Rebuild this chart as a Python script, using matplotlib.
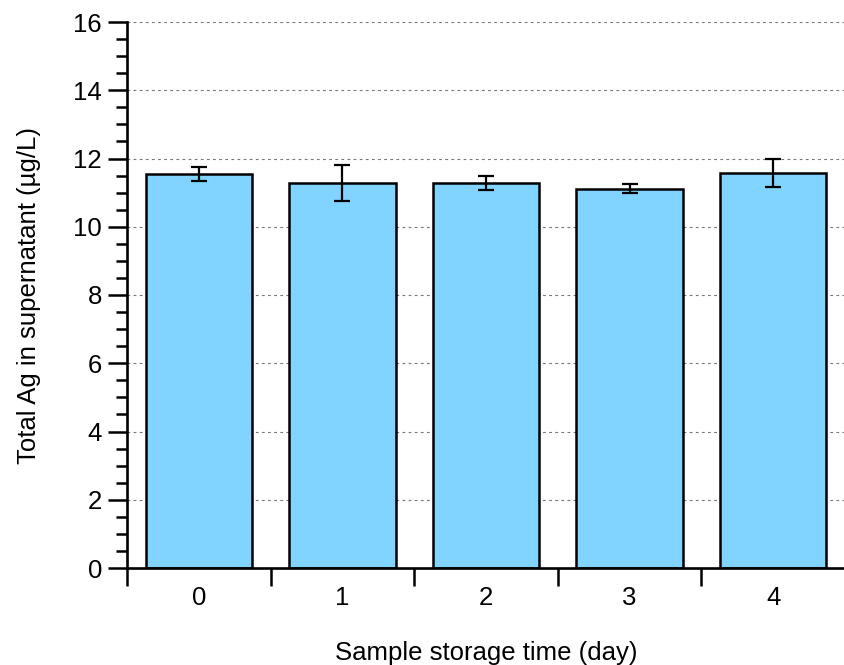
import matplotlib
matplotlib.use('Agg')
import matplotlib.pyplot as plt
import numpy as np

### data
days = ['0', '1', '2', '3', '4']
ag_total = [11.54, 11.28, 11.28, 11.12, 11.57]
ag_err = [0.20, 0.52, 0.21, 0.14, 0.41]

plt.rcParams['font.family'] = ['Liberation Sans', 'DejaVu Sans']

fig = plt.figure(figsize=(8.45, 6.65), dpi=100)
ax = fig.add_axes([127 / 845, 1 - 568 / 665, 718 / 845, 546 / 665])

x = np.arange(len(days))
ax.bar(x, ag_total, width=0.74, color='#80D4FF', edgecolor='black', linewidth=1.8, zorder=2)
ax.errorbar(x, ag_total, yerr=ag_err, fmt='none', ecolor='black', elinewidth=1.6,
            capsize=6, capthick=1.6, zorder=3)

### axes
ax.set_xlim(-0.5, 4.5)
ax.set_ylim(0, 16)
ax.set_yticks(np.arange(0, 17, 2))
ax.set_yticks(np.arange(0, 16.1, 0.5), minor=True)
ax.set_xticks(np.arange(-0.5, 4.6, 1))
ax.set_xticklabels([])
ax.set_xticks(x, minor=True)
ax.set_xticklabels(days, minor=True)

ax.tick_params(axis='y', which='major', direction='out', length=14, width=1.8, labelsize=18.5, pad=4)
ax.tick_params(axis='y', which='minor', direction='out', length=8, width=1.8)
ax.tick_params(axis='x', which='major', direction='out', length=13, width=1.8)
ax.tick_params(axis='x', which='minor', length=0, labelsize=18.5, pad=13)

for s in ['top', 'right']:
    ax.spines[s].set_visible(False)
for s in ['left', 'bottom']:
    ax.spines[s].set_linewidth(1.9)
    ax.spines[s].set_zorder(4)

ax.grid(axis='y', which='major', linestyle=(0, (2.5, 3)), color='#777777', linewidth=0.8, zorder=0)
ax.set_axisbelow(True)

ax.set_xlabel('Sample storage time (day)', fontsize=18.5, labelpad=22)
ax.set_ylabel('Total Ag in supernatant (µg/L)', fontsize=18.5, labelpad=23)

fig.savefig('out.png', dpi=100)
